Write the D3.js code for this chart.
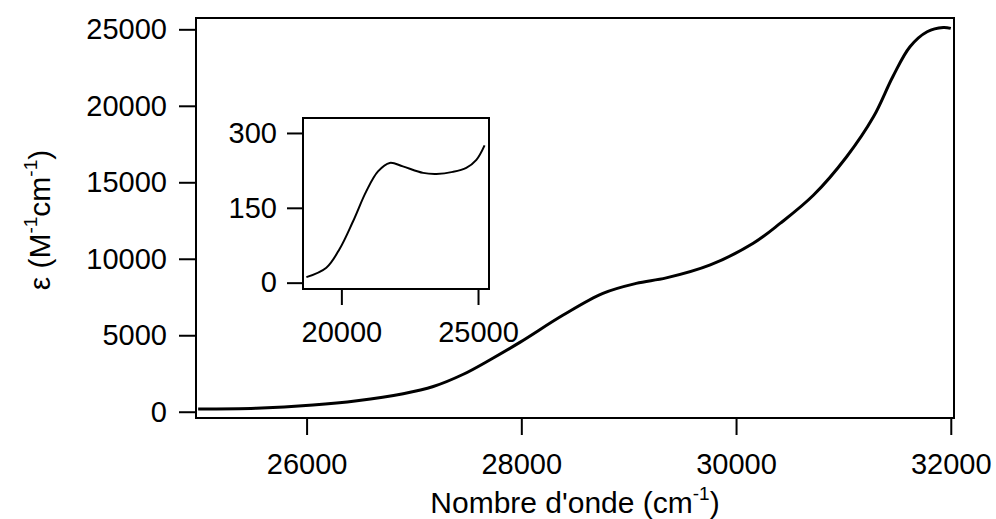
<!DOCTYPE html>
<html>
<head>
<meta charset="utf-8">
<script src="https://cdn.jsdelivr.net/npm/d3@7"></script>
<style>
	body { margin: 0; background: #fff; }
	text { font-family: "Liberation Sans", Arial, sans-serif; fill: #000; }
</style>
</head>
<body>
<div id="chart-area"></div>
<script>

// main spectrum
var mainWn = [24990, 25530, 26060, 26470, 26900, 27180, 27460, 27710, 27990, 28390, 28760, 29070,
	29350, 29760, 30160, 30410, 30720, 31030, 31280, 31460, 31620, 31780, 31930, 32000];
var mainEps = [180, 230, 440, 720, 1180, 1650, 2450, 3400, 4550, 6320, 7740, 8390,
	8750, 9600, 11010, 12310, 14150, 16670, 19280, 21900, 23860, 24840, 25120, 25060];

// inset (low energy band)
var insetWn = [18720, 19450, 19940, 20420, 20910, 21340, 21770, 22250, 22990, 23480, 24080, 24570, 24940, 25240];
var insetEps = [11, 30, 68, 122, 183, 223, 240, 233, 220, 218, 222, 230, 246, 275];

var mainXTicks = [26000, 28000, 30000, 32000];
var mainYTicks = [0, 5000, 10000, 15000, 20000, 25000];
var insetXTicks = [20000, 25000];
var insetYTicks = [0, 150, 300];

var width = 996,
	height = 519;

var svg = d3.select("#chart-area").append("svg")
	.attr("width", width)
	.attr("height", height);

var drawPanel = function(o) {
	var x = d3.scaleLinear().domain(o.xDomain).range([o.left, o.right]);
	var y = d3.scaleLinear().domain(o.yDomain).range([o.bottom, o.top]);

	var xAxis = d3.axisBottom(x)
		.tickValues(o.xTicks)
		.tickFormat(d3.format("d"))
		.tickSize(o.tick)
		.tickPadding(o.xPad);
	var gx = svg.append("g")
		.attr("class", "axis xAxis")
		.attr("transform", "translate(0," + o.bottom + ")")
		.call(xAxis);

	var yAxis = d3.axisLeft(y)
		.tickValues(o.yTicks)
		.tickFormat(d3.format("d"))
		.tickSize(o.tick)
		.tickPadding(o.yPad);
	var gy = svg.append("g")
		.attr("class", "axis yAxis")
		.attr("transform", "translate(" + o.left + ",0)")
		.call(yAxis);

	[gx, gy].forEach(function(g) {
		g.select(".domain").remove();
		g.selectAll("line").attr("stroke", "#000").attr("stroke-width", 2);
		g.selectAll("text")
			.attr("font-size", o.fontSize)
			.attr("font-family", "Liberation Sans, Arial, sans-serif");
	});

	svg.append("rect")
		.attr("x", o.left)
		.attr("y", o.top)
		.attr("width", o.right - o.left)
		.attr("height", o.bottom - o.top)
		.attr("fill", "none")
		.attr("stroke", "#000")
		.attr("stroke-width", 2);

	var line = d3.line()
		.x(function(d) { return x(d[0]); })
		.y(function(d) { return y(d[1]); })
		.curve(d3.curveCatmullRom.alpha(0.5));

	svg.append("path")
		.datum(d3.zip(o.wn, o.eps))
		.attr("d", line)
		.attr("fill", "none")
		.attr("stroke", "#000")
		.attr("stroke-width", o.lineWidth)
		.attr("stroke-linejoin", "round");
};

// main plot
drawPanel({
	left: 196, right: 954, top: 18, bottom: 418,
	xDomain: [24970, 32030], yDomain: [-410, 25740],
	xTicks: mainXTicks, yTicks: mainYTicks,
	wn: mainWn, eps: mainEps,
	tick: 17, xPad: 18, yPad: 12, fontSize: 29, lineWidth: 3
});

// inset
drawPanel({
	left: 303, right: 489, top: 118, bottom: 289,
	xDomain: [18596, 25402], yDomain: [-12.7, 330],
	xTicks: insetXTicks, yTicks: insetYTicks,
	wn: insetWn, eps: insetEps,
	tick: 16, xPad: 16, yPad: 10, fontSize: 29, lineWidth: 2
});

// axis titles
var xTitle = svg.append("text")
	.attr("x", 575)
	.attr("y", 513)
	.attr("text-anchor", "middle")
	.attr("font-size", 30);
xTitle.append("tspan").text("Nombre d'onde (cm");
xTitle.append("tspan").attr("dy", -13).attr("font-size", 19).text("-1");
xTitle.append("tspan").attr("dy", 13).text(")");

var yTitle = svg.append("text")
	.attr("transform", "translate(50,220) rotate(-90)")
	.attr("text-anchor", "middle")
	.attr("font-size", 30);
yTitle.append("tspan").text("\u03b5 (M");
yTitle.append("tspan").attr("dy", -13).attr("font-size", 19).text("-1");
yTitle.append("tspan").attr("dy", 13).text("cm");
yTitle.append("tspan").attr("dy", -13).attr("font-size", 19).text("-1");
yTitle.append("tspan").attr("dy", 13).text(")");

</script>
</body>
</html>
